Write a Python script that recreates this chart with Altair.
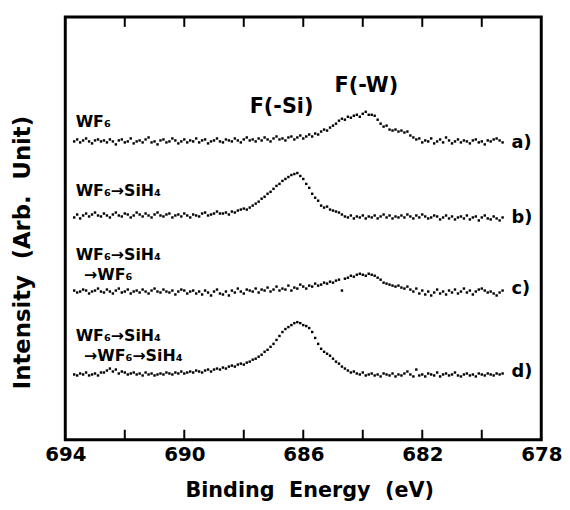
import altair as alt
import pandas as pd

# Binding energy grid of the recorded spectra (eV), 693.7 -> 679.3 in 0.1 eV steps
energies = [round(693.7 - 0.1 * i, 1) for i in range(145)]

# Intensities, relative to each spectrum's own baseline
spec_a = [0, 2, -1, 1, 3, 0, -2, 1, 2, 0,
          1, -1, 2, 0, -3, 1, 2, -1, 0, 3,
          -2, 0, 1, -1, 2, 4, -1, 0, -3, 1,
          2, -1, 0, 3, 1, -2, 0, 2, -1, 1,
          0, 3, -1, 1, 2, -2, 0, 1, 3, 0,
          -1, 2, 1, 0, 3, 1, -1, 2, 4, 1,
          2, 0, 3, 1, 4, 2, 0, 3, 5, 2,
          3, 1, 4, 5, 2, 4, 6, 3, 5, 7,
          5, 8, 7, 10, 12, 11, 14, 16, 18, 21,
          23, 22, 25, 24, 26, 27, 25, 28, 30, 27,
          27, 26, 22, 18, 15, 16, 12, 11, 12, 10,
          11, 9, 10, 6, 4, 2, 3, -1, 1, 0,
          3, -2, 0, 2, -1, 4, 1, -2, 0, 2,
          -1, 1, 0, -2, 1, 2, -1, 0, -3, 1,
          0, 2, 3, 1, -1]
spec_b = [-2, 1, -3, 0, 2, -1, 1, 3, 0, -1,
          2, 0, -2, 1, 3, 0, -1, 2, 1, -2,
          0, 3, 1, -1, 2, 0, -2, 1, 3, 0,
          -1, 1, 2, -2, 0, 1, -1, 2, 0, -2,
          1, 0, -1, 2, 3, 0, 1, 2, 4, 2,
          2, 3, 1, 4, 3, 5, 6, 7, 6, 8,
          10, 12, 14, 17, 19, 22, 24, 27, 30, 32,
          35, 37, 39, 41, 42, 43, 40, 37, 32, 28,
          22, 18, 15, 10, 8, 9, 6, 5, 4, 3,
          1, -1, -2, 0, -3, -1, -2, 0, -3, -1,
          -2, 0, -3, -1, 1, -2, 0, -3, -1, -2,
          0, -2, 1, -1, -3, 0, -2, 1, -1, -3,
          -2, 0, -1, -4, -2, 0, -3, -1, -4, -2,
          -1, -3, 0, -4, -2, -1, -5, -2, 0, -3,
          -4, -1, -3, -5, -2]
spec_c = [1, -1, 0, 2, 1, -2, 0, 1, 3, 0,
          -1, 2, 0, -2, 1, 3, -1, 0, 2, -2,
          0, 1, -1, 2, 0, -2, 1, 3, 0, -1,
          2, 0, -1, 1, -3, 0, 2, 1, -2, 0,
          1, -2, 0, -3, 1, -1, -4, 0, 2, -2,
          -3, 0, -4, 1, -1, 3, 0, -2, 2, 1,
          0, 3, -1, 2, 1, 4, 0, 2, 5, 1,
          3, 2, 6, 1, 4, 3, 7, 5, 3, 6,
          5, 8, 6, 7, 9, 8, 10, 9, 11, 12,
          1, 13, 14, 16, 15, 17, 18, 17, 16, 18,
          17, 16, 14, 12, 9, 8, 7, 6, 5, 6,
          4, 3, 5, 2, 0, 3, -2, 1, -3, 0,
          -4, -1, 2, -2, 0, -3, 1, -1, 2, -2,
          0, 3, -1, 1, -3, 0, 2, 3, 1, -1,
          0, -2, -4, -1, 1]
spec_d = [0, -1, 1, 0, 2, -1, 0, 1, -1, 2,
          2, 4, 6, 3, 5, 1, 3, 2, 0, 1,
          2, 0, 1, -1, 2, 0, 1, -1, 0, 1,
          0, 2, 1, 0, 2, 1, 3, 1, 2, 3,
          2, 4, 3, 2, 4, 5, 3, 5, 6, 5,
          7, 6, 8, 9, 8, 10, 11, 10, 12, 13,
          15, 16, 18, 20, 23, 25, 28, 31, 35, 39,
          43, 46, 48, 50, 52, 53, 52, 50, 49, 47,
          43, 37, 31, 26, 23, 21, 19, 16, 13, 11,
          8, 6, 4, 2, 3, 1, 0, 2, -1, 0,
          1, -1, 0, -2, 1, 0, -1, 1, -2, 0,
          -1, 1, 3, 0, -2, 5, -1, 0, -2, 1,
          0, -1, 2, -2, 0, 1, -1, 0, 2, -1,
          -2, 0, 1, -1, 0, -2, 1, 0, -1, 1,
          0, -1, 1, 0, 1]

series_names = ["a", "b", "c", "d"]
series_values = [spec_a, spec_b, spec_c, spec_d]
stack_offsets = [302, 227, 150, 66]

# Annotations
left_labels = ["WF₆", "WF₆→SiH₄", "WF₆→SiH₄", "→WF₆", "WF₆→SiH₄", "→WF₆→SiH₄"]
left_label_x = [693.65, 693.65, 693.65, 693.37, 693.65, 693.37]
left_label_y = [317, 247, 182, 162, 100, 80]
right_labels = ["a)", "b)", "c)", "d)"]
right_label_x = [679.0, 679.0, 679.0, 679.0]
right_label_y = [300, 224, 153, 68]
peak_labels = ["F(-Si)", "F(-W)"]
peak_label_x = [686.73, 683.88]
peak_label_y = [337, 358]

tick_energies = [692, 690, 688, 686, 684, 682, 680]
axis_labels = [694, 690, 686, 682, 678]

rows = []
for name, vals, off in zip(series_names, series_values, stack_offsets):
    for e, v in zip(energies, vals):
        rows.append({"series": name, "energy": e, "intensity": off + v})
df = pd.DataFrame(rows)

df_left = pd.DataFrame({"label": left_labels, "energy": left_label_x, "intensity": left_label_y})
df_right = pd.DataFrame({"label": right_labels, "energy": right_label_x, "intensity": right_label_y})
df_peak = pd.DataFrame({"label": peak_labels, "energy": peak_label_x, "intensity": peak_label_y})
df_tb = pd.DataFrame({"energy": tick_energies, "intensity": [0] * 7, "i2": [10] * 7})
df_tt = pd.DataFrame({"energy": tick_energies, "intensity": [418] * 7, "i2": [428] * 7})

FONT = "DejaVu Sans"
NB = "\u00a0"

x_enc = alt.X(
    "energy:Q",
    scale=alt.Scale(domain=[678, 694], reverse=True, nice=False, zero=False),
    axis=alt.Axis(
        values=axis_labels, title=f"Binding{NB} Energy{NB} (eV)", grid=False, ticks=False,
        domain=False, labelFont=FONT, labelFontSize=20, labelFontWeight="bold",
        labelColor="black", labelPadding=5, labelFlush=False, format="d",
        titleFont=FONT, titleFontSize=21, titleFontWeight="bold", titleColor="black",
        titlePadding=16, titleX=247,
    ),
)
y_enc = alt.Y(
    "intensity:Q",
    scale=alt.Scale(domain=[0, 428], nice=False, zero=False),
    axis=alt.Axis(
        title=f"Intensity{NB} (Arb.{NB} Unit)", labels=False, ticks=False, domain=False,
        grid=False, titleFont=FONT, titleFontSize=23, titleFontWeight="bold",
        titleColor="black", titlePadding=31, titleY=238,
    ),
)

points = alt.Chart(df).mark_square(size=6, color="black", opacity=1).encode(
    x=x_enc, y=y_enc, detail="series:N"
)

ticks_b = alt.Chart(df_tb).mark_rule(color="black", strokeWidth=2).encode(
    x=x_enc, y=y_enc, y2="i2:Q"
)
ticks_t = alt.Chart(df_tt).mark_rule(color="black", strokeWidth=2).encode(
    x=x_enc, y=y_enc, y2="i2:Q"
)

left_txt = alt.Chart(df_left).mark_text(
    font=FONT, fontWeight="bold", fontSize=16, align="left", baseline="alphabetic", color="black"
).encode(x=x_enc, y=y_enc, text="label:N")

right_txt = alt.Chart(df_right).mark_text(
    font=FONT, fontWeight="bold", fontSize=18, align="left", baseline="middle", color="black"
).encode(x=x_enc, y=y_enc, text="label:N")

peak_txt = alt.Chart(df_peak).mark_text(
    font=FONT, fontWeight="bold", fontSize=21, align="center", baseline="middle", color="black"
).encode(x=x_enc, y=y_enc, text="label:N")

chart = alt.layer(points, ticks_b, ticks_t, left_txt, right_txt, peak_txt).properties(
    width=482, height=428, autosize="none",
    padding={"left": 58, "top": 6, "right": 21, "bottom": 59},
).configure_view(stroke="black", strokeWidth=3)

chart.save("out.html", embed_options={"renderer": "svg", "actions": False})
